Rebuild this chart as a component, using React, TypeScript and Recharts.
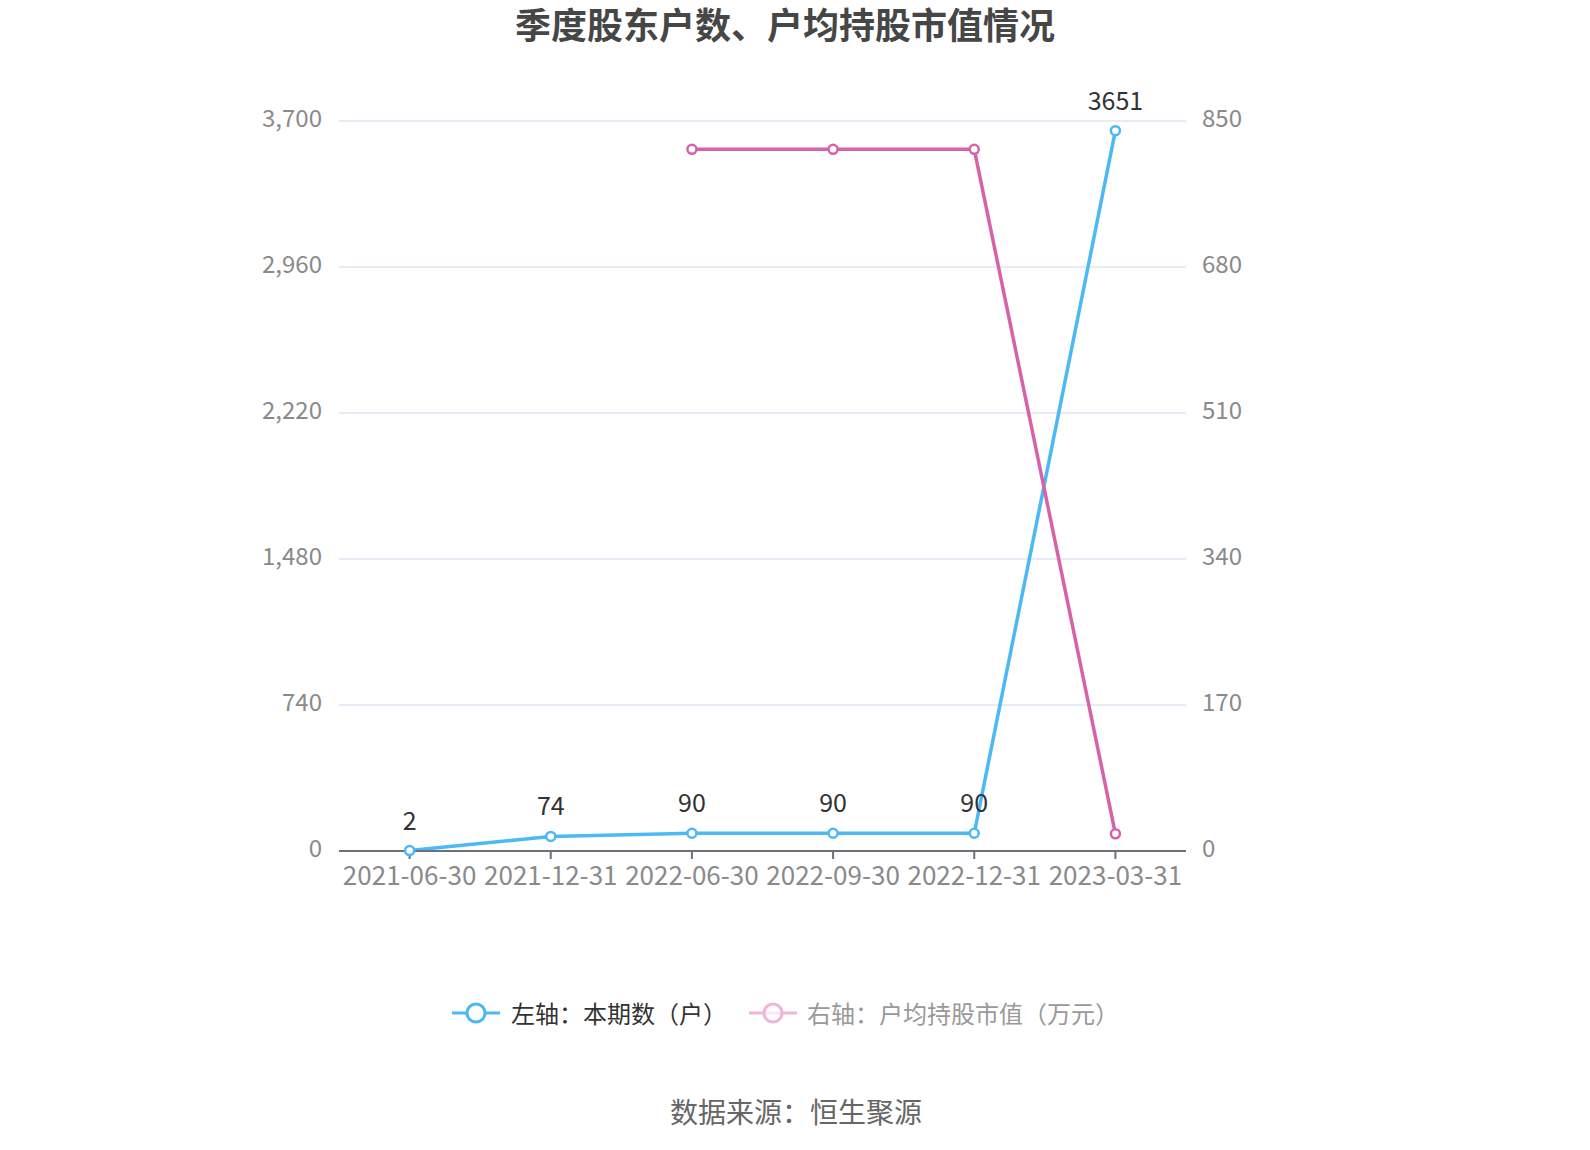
import React from "react";
import {
  LineChart,
  Line,
  XAxis,
  YAxis,
  CartesianGrid,
  LabelList,
} from "recharts";

const dates = [
  "2021-06-30",
  "2021-12-31",
  "2022-06-30",
  "2022-09-30",
  "2022-12-31",
  "2023-03-31",
];
const holders = [2, 74, 90, 90, 90, 3651];
const avgValue = [null, null, 817, 817, 817, 20];
const leftTicks = [0, 740, 1480, 2220, 2960, 3700];
const rightTicks = [0, 170, 340, 510, 680, 850];

const BLUE = "#4cb8f4";
const PINK = "#d862a9";
const FONT = '"Noto Sans CJK SC", "Noto Sans", sans-serif';

const data = dates.map((d, i) => ({
  date: d,
  holders: holders[i],
  avgValue: avgValue[i],
}));

const tickStyle = { fill: "#8a8a8a", fontSize: 24, fontFamily: FONT };

function LegendIcon({ color, faded }: { color: string; faded?: boolean }) {
  return (
    <svg width={48} height={24} style={{ display: "block" }}>
      <line x1={0} y1={12} x2={48} y2={12} stroke={color} strokeWidth={3} />
      <circle
        cx={24}
        cy={12}
        r={9}
        stroke={color}
        strokeWidth={3}
        fill={faded ? "rgba(255,255,255,0.7)" : "#fff"}
      />
    </svg>
  );
}

export default function App() {
  return (
    <div
      style={{
        position: "absolute",
        left: 0,
        top: 0,
        width: 1590,
        height: 1150,
        background: "#fff",
        fontFamily: FONT,
      }}
    >
      <div
        style={{
          position: "absolute",
          left: 0,
          top: 2,
          width: 1570,
          textAlign: "center",
          fontSize: 36,
          lineHeight: "42px",
          fontWeight: 700,
          color: "#464646",
        }}
      >
        季度股东户数、户均持股市值情况
      </div>

      <LineChart
        width={1590}
        height={1150}
        data={data}
        margin={{ top: 121, right: 324, bottom: 259, left: 259 }}
      >
        <CartesianGrid
          yAxisId="left"
          vertical={false}
          stroke="#e0e4f2"
          strokeWidth={1.5}
        />
        <XAxis
          dataKey="date"
          height={40}
          interval={0}
          padding={{ left: 70.6, right: 70.6 }}
          stroke="#6e7079"
          axisLine={{ stroke: "#6e7079", strokeWidth: 2 }}
          tickLine={{ stroke: "#6e7079", strokeWidth: 2 }}
          tickSize={8}
          tickMargin={8}
          tick={{ ...tickStyle, fontSize: 26 }}
        />
        <YAxis
          yAxisId="left"
          width={80}
          domain={[0, 3700]}
          ticks={leftTicks}
          axisLine={false}
          tickLine={false}
          tickSize={0}
          tickMargin={17}
          tick={{ ...tickStyle, dy: -3 }}
          tickFormatter={(v: number) => v.toLocaleString("en-US")}
        />
        <YAxis
          yAxisId="right"
          orientation="right"
          width={80}
          domain={[0, 850]}
          ticks={rightTicks}
          axisLine={false}
          tickLine={false}
          tickSize={0}
          tickMargin={16}
          tick={{ ...tickStyle, dy: -3 }}
        />
        <Line
          yAxisId="left"
          dataKey="holders"
          stroke={BLUE}
          strokeWidth={3.5}
          dot={{ r: 4.5, strokeWidth: 2.5, fill: "#fff", stroke: BLUE }}
          activeDot={false}
          isAnimationActive={false}
        >
          <LabelList
            dataKey="holders"
            position="top"
            offset={21}
            fill="#333"
            fontSize={25}
            fontFamily={FONT}
          />
        </Line>
        <Line
          yAxisId="right"
          dataKey="avgValue"
          stroke={PINK}
          strokeWidth={3.5}
          dot={{ r: 4.5, strokeWidth: 2.5, fill: "#fff", stroke: PINK }}
          activeDot={false}
          isAnimationActive={false}
        />
      </LineChart>

      <div
        style={{
          position: "absolute",
          left: 452,
          top: 998,
          display: "flex",
          alignItems: "center",
          fontSize: 24,
          lineHeight: "30px",
        }}
      >
        <LegendIcon color={BLUE} />
        <span style={{ color: "#333", marginLeft: 11 }}>左轴：本期数（户）</span>
        <span style={{ width: 22 }} />
        <LegendIcon color="#efb4d6" faded />
        <span style={{ color: "#999", marginLeft: 10 }}>
          右轴：户均持股市值（万元）
        </span>
      </div>

      <div
        style={{
          position: "absolute",
          left: 0,
          top: 1093,
          width: 1592,
          textAlign: "center",
          fontSize: 28,
          lineHeight: "36px",
          color: "#666",
        }}
      >
        数据来源：恒生聚源
      </div>
    </div>
  );
}
